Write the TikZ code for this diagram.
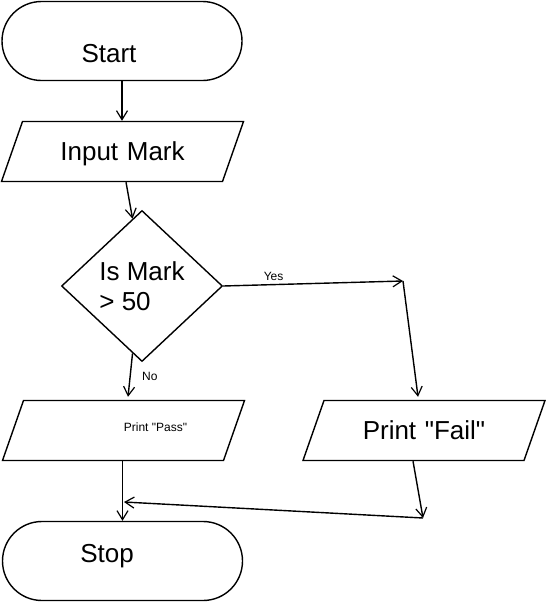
\documentclass[tikz,border=0pt]{standalone}
\usepackage{fontspec}
\setmainfont{Liberation Sans}[Ligatures=TeXOff]
\usetikzlibrary{arrows.meta,shapes.geometric}

\begin{document}
\begin{tikzpicture}[x=1pt,y=-1pt,line width=1.4pt,
  >={Straight Barb[length=9pt,width=11pt,line width=1.2pt]},
  term/.style={draw,rectangle,rounded corners=39.5pt,minimum width=240pt,minimum height=79pt},
  io/.style={draw,trapezium,trapezium left angle=70.7,trapezium right angle=109.3,
    text width=180pt,align=center,text height=18.6pt,text depth=0pt,
    inner xsep=10pt,inner ysep=20.7pt},
  ask/.style={draw,diamond,minimum width=161pt,minimum height=151pt,inner sep=0pt},
  bigtxt/.style={font=\fontsize{26}{30}\selectfont},
  smalltxt/.style={font=\fontsize{12}{14}\selectfont}]
\useasboundingbox (0,0) rectangle (546,603);
\node[term] (start) at (122,41) {};
\node[bigtxt,anchor=base] (starttxt) at (109,62) {Start};
\node[io,bigtxt] (input) at (122.5,151.5) {Input Mark};
\node[ask,bigtxt,align=left] (dec) at (142,286) {Is Mark\\> 50};
\node[io] (pass) at (123.5,430.5) {};
\node[smalltxt] (passtxt) at (155.5,427) {Print "Pass"};
\node[io,bigtxt] (fail) at (424,430.5) {Print "Fail"};
\node[term] (stop) at (122.5,561) {};
\node[bigtxt,anchor=base] (stoptxt) at (107,562) {Stop};
\coordinate (yes) at (403,281);
\coordinate (back) at (423,518);
\coordinate (merge) at (124,502);
\draw[->] (start) -- (start.south |- input.north);
\draw[->] ([xshift=3.5pt]input.south) -- (dec.98);
\draw[->] (dec.east) -- (yes) node[smalltxt,above,pos=0.28] {Yes};
\draw[->] (yes) -- ([xshift=-6pt,yshift=3pt]fail.north);
\draw[->] (dec.262) -- ([xshift=4.5pt,yshift=3pt]pass.north) node[smalltxt,right=8pt,pos=0.53] {No};
\draw[->] (stop.north |- pass.south) -- (stop.north);
\draw[->] ([xshift=-11pt]fail.south) -- (back);
\draw[->] (back) -- (merge);
\end{tikzpicture}
\end{document}
